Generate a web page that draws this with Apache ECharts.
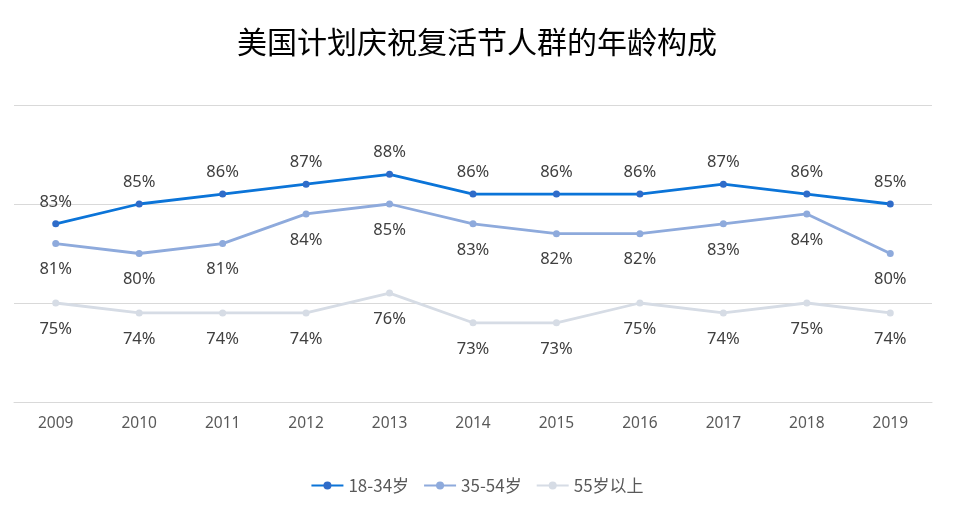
<!DOCTYPE html>
<html>
<head>
<meta charset="utf-8">
<script src="https://cdn.jsdelivr.net/npm/echarts@6/dist/echarts.min.js"></script>
<style>
html,body{margin:0;padding:0;background:#fff;}
#chart{width:954px;height:517px;}
</style>
</head>
<body>
<div id="chart"></div>
<script>
var years = ['2009','2010','2011','2012','2013','2014','2015','2016','2017','2018','2019'];
var age18to34 = [83,85,86,87,88,86,86,86,87,86,85];
var age35to54 = [81,80,81,84,85,83,82,82,83,84,80];
var age55plus = [75,74,74,74,76,73,73,75,74,75,74];
var seriesNames = ['18-34岁','35-54岁','55岁以上'];

var myChart = echarts.init(document.getElementById('chart'));

function makeSeries(name, data, lineColor, dotColor, pos, dist) {
    return {
        name: name,
        type: 'line',
        data: data,
        symbol: 'circle',
        symbolSize: 7,
        lineStyle: {color: lineColor, width: 2.8},
        itemStyle: {color: dotColor},
        label: {
            show: true,
            position: pos,
            distance: dist,
            formatter: '{c}%',
            color: '#404040',
            fontSize: 16.5,
            fontFamily: 'Noto Sans'
        }
    };
}

var option = {
    animation: false,
    title: {
        text: '美国计划庆祝复活节人群的年龄构成',
        left: 'center',
        top: 22,
        textStyle: {fontFamily: 'Noto Sans CJK SC', fontSize: 30, fontWeight: 'normal', color: '#000'}
    },
    legend: {
        data: seriesNames,
        bottom: 18,
        itemWidth: 32,
        itemHeight: 10,
        itemGap: 14,
        textStyle: {fontFamily: 'Noto Sans CJK SC', fontSize: 17, color: '#595959'}
    },
    grid: {left: 14, right: 22, top: 105, bottom: 115},
    xAxis: {
        type: 'category',
        data: years,
        boundaryGap: true,
        axisLine: {show: true, lineStyle: {color: '#d9d9d9'}},
        axisTick: {show: false},
        axisLabel: {color: '#595959', fontSize: 15.5, margin: 14, fontFamily: 'Noto Sans'}
    },
    yAxis: {
        type: 'value',
        min: 65,
        max: 95,
        interval: 10,
        axisLabel: {show: false},
        axisLine: {show: false},
        axisTick: {show: false},
        splitLine: {lineStyle: {color: '#d9d9d9'}}
    },
    series: [
        makeSeries(seriesNames[0], age18to34, '#0b74d8', '#2f6cc9', 'top', 10),
        makeSeries(seriesNames[1], age35to54, '#8eaadc', '#8eaadc', 'bottom', 14),
        makeSeries(seriesNames[2], age55plus, '#d6dce5', '#d6dce5', 'bottom', 14)
    ]
};

myChart.setOption(option);
</script>
</body>
</html>
